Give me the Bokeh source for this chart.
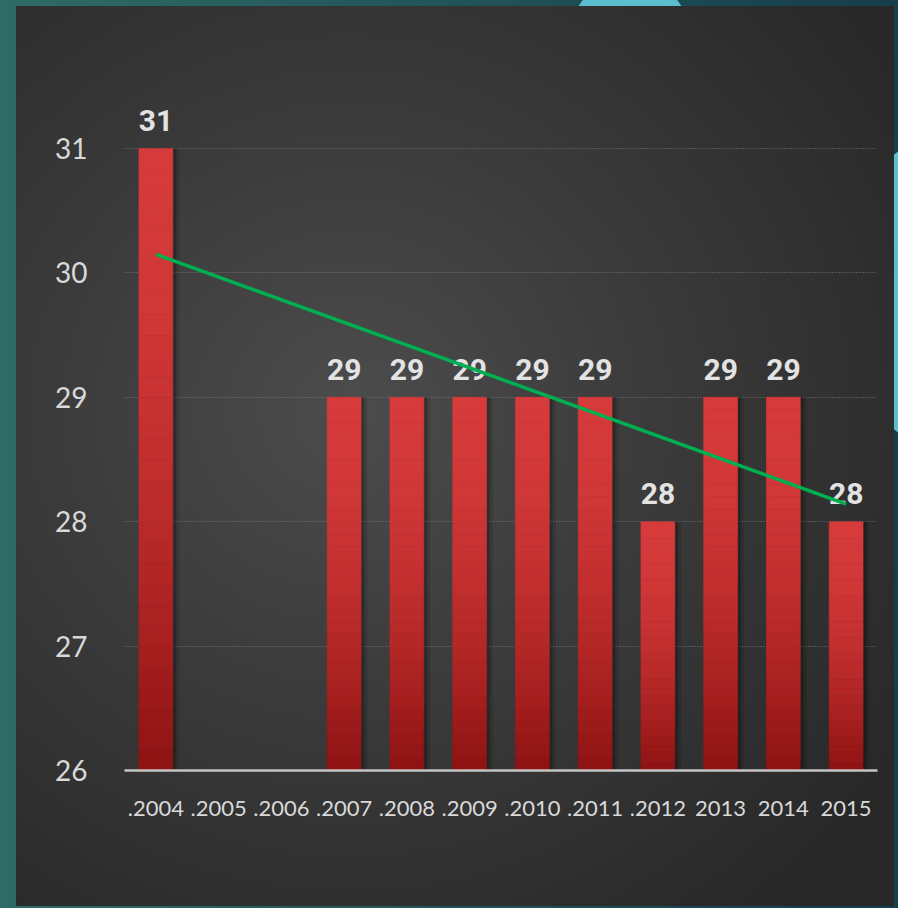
import numpy as np
from bokeh.plotting import figure
from bokeh.models import Range1d, FactorRange, FixedTicker, ColumnDataSource, Spacer
from bokeh.layouts import row, column
from bokeh.transform import dodge
from bokeh.core.properties import value
from bokeh.embed import file_html
from bokeh.resources import INLINE

# ---- data ----
years = [".2004", ".2005", ".2006", ".2007", ".2008", ".2009", ".2010",
         ".2011", ".2012", "2013", "2014", "2015"]
values = [31, None, None, 29, 29, 29, 29, 29, 28, 29, 29, 28]
y_ticks = [26, 27, 28, 29, 30, 31]
y_base = 26

# ---- figure ----
p = figure(x_range=FactorRange(*years, range_padding=0), y_range=Range1d(26, 31.7),
           width=878, height=900, output_backend="svg", toolbar_location=None,
           min_border_left=108, min_border_right=17, min_border_top=55, min_border_bottom=136)
p.border_fill_color = None
p.background_fill_color = None
p.outline_line_color = None
p.styles = {"background": "radial-gradient(ellipse 75% 70% at 38% 45%, #4c4c4c 0%, #3b3b3b 45%, #282828 100%)"}

present = [(y, v) for y, v in zip(years, values) if v is not None]
px = [y for y, v in present]
pv = [v for y, v in present]

# shadows
for off, a in [(0.05, 0.22), (0.10, 0.12)]:
    src = ColumnDataSource(dict(x=px, top=pv))
    p.vbar(x=dodge("x", off, range=p.x_range), top="top", bottom=y_base, width=0.54,
           source=src, fill_color="black", fill_alpha=a, line_color=None)

# gradient bars (stacked slices)
N = 30
top_c = np.array([214, 58, 58])
bot_c = np.array([142, 18, 18])
xs, bots, tops, cols = [], [], [], []
for x, v in present:
    for k in range(N):
        f = 1 - (k + 0.5) / N
        c = top_c + (bot_c - top_c) * (f ** 1.8)
        xs.append(x)
        bots.append(y_base + (v - y_base) * k / N)
        tops.append(y_base + (v - y_base) * (k + 1) / N)
        cols.append("#%02x%02x%02x" % tuple(int(round(t)) for t in c))
bsrc = ColumnDataSource(dict(x=xs, bottom=bots, top=tops, color=cols))
p.vbar(x="x", bottom="bottom", top="top", width=0.54, source=bsrc,
       fill_color="color", line_color="color", line_width=0.6)

# data labels
lsrc = ColumnDataSource(dict(x=px, y=pv, t=[str(v) for v in pv]))
p.text(x="x", y="y", text="t", source=lsrc, y_offset=-28, text_align="center",
       text_baseline="middle", text_font=value("Roboto"), text_font_style="bold",
       text_font_size="30px", text_color="#e3e3e3")

# linear trend line
idx = np.array([i for i, v in enumerate(values) if v is not None], dtype=float)
slope, icpt = np.polyfit(idx, np.array(pv, dtype=float), 1)
trend_y = [icpt, icpt + slope * (len(years) - 1)]
p.line(x=[years[0], years[-1]], y=trend_y, line_color="#00b050", line_width=3.5)

# axes & grid
p.xgrid.visible = False
p.ygrid.ticker = FixedTicker(ticks=y_ticks[1:])
p.ygrid.grid_line_color = "#7a7a7a"
p.ygrid.grid_line_dash = "1 2"
p.ygrid.grid_line_width = 1

p.yaxis.ticker = FixedTicker(ticks=y_ticks)
p.yaxis.axis_line_color = None
p.yaxis.major_tick_line_color = None
p.yaxis.minor_tick_line_color = None
p.yaxis.major_label_standoff = 31
p.yaxis.major_label_text_font = "Lato"
p.yaxis.major_label_text_font_size = "28px"
p.yaxis.major_label_text_color = "#d9d9d9"

p.xaxis.axis_line_color = "#c4c4c4"
p.xaxis.axis_line_width = 2.5
p.xaxis.major_tick_line_color = None
p.xaxis.minor_tick_line_color = None
p.xaxis.major_label_standoff = 24
p.xaxis.major_label_text_font = "Lato"
p.xaxis.major_label_text_font_size = "22px"
p.xaxis.major_label_text_color = "#d9d9d9"

layout = column(Spacer(width=10, height=6), row(Spacer(width=16, height=10), p))

css = ("<style>html,body{margin:0;padding:0;overflow:hidden;"
       "background:radial-gradient(circle at 630px 38px,#5bbfd0 60px,transparent 61px),"
       "radial-gradient(circle at 1000px 292px,#5bbfd0 173px,transparent 174px),"
       "linear-gradient(90deg,#2e6b67,#153e4a);min-height:908px;}</style>")
html = file_html(layout, INLINE)
html = html.replace("</head>", css + "</head>", 1)
open("out.html", "w").write(html)
